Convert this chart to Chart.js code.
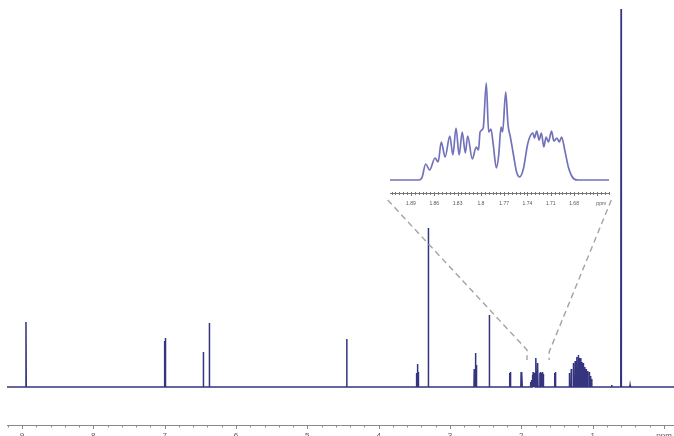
<!DOCTYPE html>
<html>
<head>
<meta charset="utf-8">
<script src="https://cdn.jsdelivr.net/npm/chart.js@4.4.1/dist/chart.umd.min.js"></script>
<style>
  html, body { margin: 0; padding: 0; background: #fff; overflow: hidden; }
  #wrap { position: relative; width: 674px; height: 436px; overflow: hidden; }
  #wrap canvas { position: absolute; left: 0; top: 0; }
</style>
</head>
<body>
<div id="wrap">
  <canvas id="spec" width="674" height="439"></canvas>
  <canvas id="zoom" width="674" height="439"></canvas>
</div>
<script>
// 1H NMR spectrum: peak positions (ppm) and intensities
const peakPpm = [
  8.944, 7.002, 6.990, 6.458, 6.374, 4.448,
  3.470, 3.458, 3.446, 3.304,
  2.660, 2.645, 2.632, 2.449,
  2.165, 2.153, 2.003, 1.991,
  1.871, 1.858, 1.846, 1.834, 1.822, 1.810, 1.795, 1.783, 1.770,
  1.740, 1.728, 1.716, 1.704, 1.692,
  1.534, 1.522,
  1.327, 1.300, 1.271, 1.245, 1.222, 1.201, 1.185, 1.168, 1.150,
  1.131, 1.112, 1.093, 1.070, 1.047, 1.030, 1.014,
  0.733, 0.602, 0.476
];
const peakHeight = [
  65, 46, 49, 35, 64, 48,
  14, 23, 15, 159,
  18, 34, 22, 72,
  14, 15, 15, 14,
  5, 7, 12, 15, 14, 12, 29, 16, 24,
  14, 15, 14, 15, 13,
  14, 15,
  14, 18, 24, 26, 30, 32, 29, 29, 25,
  24, 20, 18, 16, 15, 11, 8,
  2, 378, 2
];

// Expanded multiplet (1.92 - 1.63 ppm): traced maxima and minima
const zoomPpm = [
  1.917, 1.880, 1.876, 1.871, 1.866, 1.859, 1.855, 1.851, 1.846, 1.840,
  1.836, 1.832, 1.828, 1.824, 1.820, 1.817, 1.811, 1.806, 1.803, 1.801,
  1.797, 1.793, 1.790, 1.787, 1.784, 1.780, 1.777, 1.774, 1.772, 1.768,
  1.765, 1.762, 1.758, 1.754, 1.750, 1.745, 1.740, 1.737, 1.733, 1.731,
  1.728, 1.725, 1.722, 1.719, 1.716, 1.713, 1.709, 1.706, 1.702, 1.699,
  1.696, 1.692, 1.687, 1.683, 1.680, 1.675, 1.635
];
const zoomIntensity = [
  0, 0, 2, 16, 10, 22, 18, 38, 23, 44,
  25, 52, 25, 48, 27, 44, 21, 33, 30, 48,
  52, 97, 48, 51, 35, 12, 25, 53, 48, 88,
  55, 43, 25, 8, 3, 12, 35, 43, 47, 42,
  49, 40, 47, 33, 43, 38, 49, 39, 42, 38,
  43, 30, 12, 4, 1, 0, 0
];

// Axis tick labels
const mainTickValues = [9, 8, 7, 6, 5, 4, 3, 2, 1, 0];
const mainTickLabels = ['9', '8', '7', '6', '5', '4', '3', '2', '1', 'ppm'];
const zoomTickValues = [1.89, 1.86, 1.83, 1.80, 1.77, 1.74, 1.71, 1.68, 1.645];
const zoomTickLabels = ['1.89', '1.86', '1.83', '1.8', '1.77', '1.74', '1.71', '1.68', 'ppm'];

// Connector anchors: [ppm in expansion, ppm in spectrum, top of vertical, bottom of vertical]
const linkLeft = [1.920, 1.920, 37, 27];
const linkRight = [1.632, 1.610, 35, 27];

const SPEC_COLOR = '#34347f';
const ZOOM_COLOR = '#7272bb';
const AXIS_COLOR = '#8a8a8a';
const TEXT_COLOR = '#555';
const LINE_HALF_WIDTH = 0.004;

// Build the spectrum trace from the peak list
const specPoints = [{ x: 9.21, y: 0 }];
peakPpm.forEach((p, i) => {
  specPoints.push({ x: p + LINE_HALF_WIDTH, y: 0 });
  specPoints.push({ x: p, y: peakHeight[i] });
  specPoints.push({ x: p - LINE_HALF_WIDTH, y: 0 });
});
specPoints.push({ x: -0.14, y: 0 });

const zoomPoints = zoomPpm.map((p, i) => ({ x: p, y: zoomIntensity[i] }));

// Ruler-style ppm axis for the full spectrum
const specAxis = {
  id: 'specAxis',
  afterDraw(chart) {
    const { ctx, chartArea, scales } = chart;
    const xs = scales.x;
    const yAxis = chartArea.bottom;
    ctx.save();
    ctx.strokeStyle = AXIS_COLOR;
    ctx.lineWidth = 1;
    ctx.beginPath();
    ctx.moveTo(chartArea.left, yAxis + 0.5);
    ctx.lineTo(chartArea.right, yAxis + 0.5);
    for (let i = 0; i <= 46; i++) {
      const v = (92 - 2 * i) / 10;
      const px = Math.round(xs.getPixelForValue(v)) + 0.5;
      const major = (92 - 2 * i) % 10 === 0;
      ctx.moveTo(px, yAxis);
      ctx.lineTo(px, yAxis + (major ? 4 : 2.5));
    }
    ctx.stroke();
    ctx.fillStyle = TEXT_COLOR;
    ctx.font = '8px "Liberation Sans", Arial, sans-serif';
    ctx.textAlign = 'center';
    ctx.textBaseline = 'top';
    mainTickValues.forEach((v, i) => {
      ctx.fillText(mainTickLabels[i], xs.getPixelForValue(v), yAxis + 7);
    });
    ctx.restore();
  }
};

const specChart = new Chart(document.getElementById('spec'), {
  type: 'line',
  data: {
    datasets: [{
      data: specPoints,
      borderColor: SPEC_COLOR,
      borderWidth: 1.5,
      pointRadius: 0,
      tension: 0,
      fill: false
    }]
  },
  options: {
    responsive: false,
    animation: false,
    devicePixelRatio: 1,
    layout: { padding: { left: 7, right: 0, top: 8, bottom: 14 } },
    plugins: { legend: { display: false }, tooltip: { enabled: false } },
    scales: {
      x: { type: 'linear', reverse: true, min: -0.14, max: 9.21, display: false },
      y: { type: 'linear', min: -38, max: 379, display: false }
    }
  },
  plugins: [specAxis]
});

// Axis of the expansion plus dashed connectors to the spectrum
const zoomAxis = {
  id: 'zoomAxis',
  afterDraw(chart) {
    const { ctx, chartArea, scales } = chart;
    const xs = scales.x;
    const ys = scales.y;
    const yAxis = chartArea.bottom;
    ctx.save();
    ctx.strokeStyle = '#777';
    ctx.lineWidth = 1;
    ctx.beginPath();
    ctx.moveTo(chartArea.left, yAxis + 0.5);
    ctx.lineTo(chartArea.right, yAxis + 0.5);
    for (let i = 0; i <= 56; i++) {
      const milli = 1915 - 5 * i;
      const px = Math.round(xs.getPixelForValue(milli / 1000)) + 0.5;
      const major = milli % 30 === 0;
      ctx.moveTo(px, yAxis - 1);
      ctx.lineTo(px, yAxis + (major ? 3 : 2));
    }
    ctx.stroke();
    ctx.fillStyle = TEXT_COLOR;
    ctx.font = '5px "Liberation Sans", Arial, sans-serif';
    ctx.textAlign = 'center';
    ctx.textBaseline = 'top';
    zoomTickValues.forEach((v, i) => {
      ctx.fillText(zoomTickLabels[i], xs.getPixelForValue(v), yAxis + 8);
    });

    // dashed connectors
    const mx = specChart.scales.x;
    const my = specChart.scales.y;
    ctx.strokeStyle = '#a3a3a3';
    ctx.lineWidth = 1.4;
    ctx.setLineDash([6, 4]);
    [linkLeft, linkRight].forEach(([zp, sp, top, bottom]) => {
      ctx.beginPath();
      ctx.moveTo(xs.getPixelForValue(zp), ys.getPixelForValue(-20));
      ctx.lineTo(mx.getPixelForValue(sp), my.getPixelForValue(top));
      ctx.lineTo(mx.getPixelForValue(sp), my.getPixelForValue(bottom));
      ctx.stroke();
    });
    ctx.restore();
  }
};

new Chart(document.getElementById('zoom'), {
  type: 'line',
  data: {
    datasets: [{
      data: zoomPoints,
      borderColor: ZOOM_COLOR,
      borderWidth: 1.7,
      pointRadius: 0,
      cubicInterpolationMode: 'monotone',
      fill: false
    }]
  },
  options: {
    responsive: false,
    animation: false,
    devicePixelRatio: 1,
    layout: { padding: { left: 390, right: 65, top: 78, bottom: 246 } },
    plugins: { legend: { display: false }, tooltip: { enabled: false } },
    scales: {
      x: { type: 'linear', reverse: true, min: 1.635, max: 1.917, display: false },
      y: { type: 'linear', min: -13, max: 102, display: false }
    }
  },
  plugins: [zoomAxis]
});
</script>
</body>
</html>
